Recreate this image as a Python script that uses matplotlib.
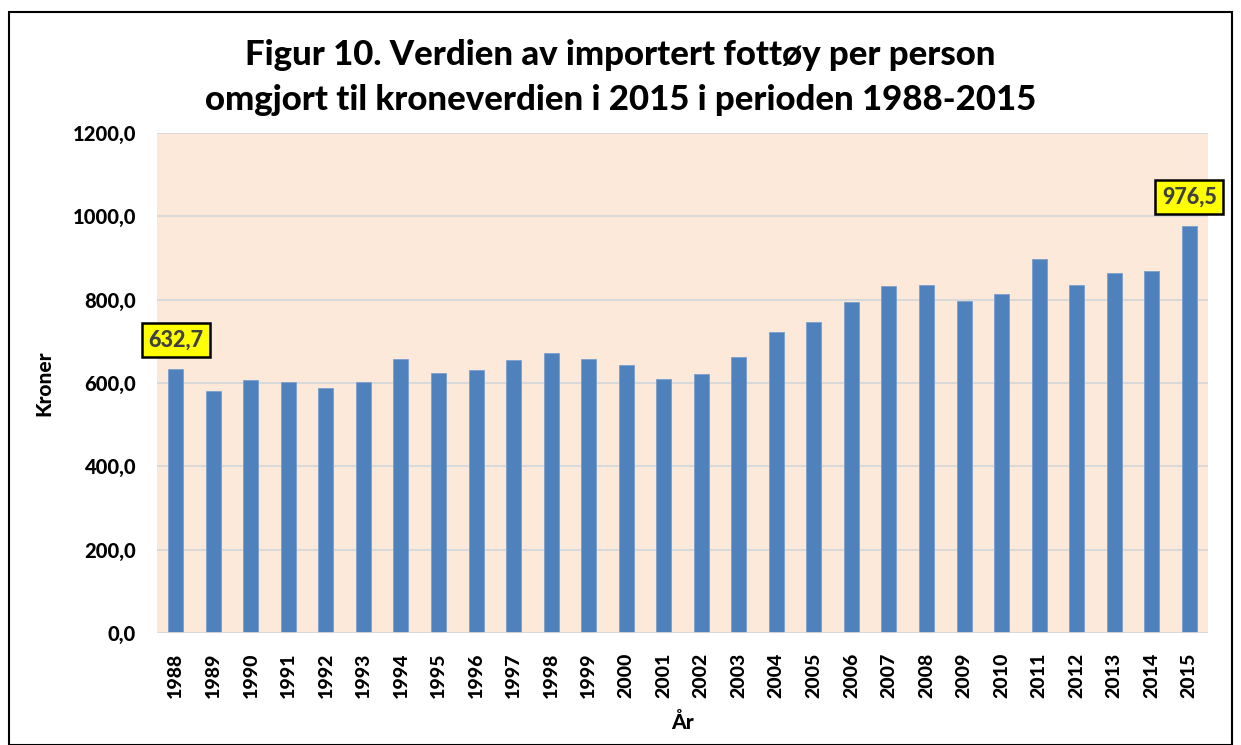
import matplotlib.pyplot as plt
from matplotlib.patches import Rectangle
from matplotlib.ticker import FuncFormatter

years = [str(y) for y in range(1988, 2016)]
kroner = [632.7, 580.8, 608.0, 602.4, 588.7, 601.5, 658.3, 624.7, 631.2, 655.9,
          672.0, 656.6, 644.0, 608.6, 620.6, 661.4, 721.4, 746.3, 793.4, 833.5,
          835.9, 797.5, 814.3, 898.3, 835.1, 864.7, 869.5, 976.5]

plt.rcParams['font.family'] = ['Lato', 'DejaVu Sans']

fig = plt.figure(figsize=(12.41, 7.45), dpi=100)
ax = fig.add_axes([157 / 1241, 1 - 633 / 745, 1051 / 1241, 500 / 745])

bar_colour = "#4f81bd"
x = range(len(years))
ax.bar(x, kroner, width=0.4, color=bar_colour, edgecolor="#7b9fd0", linewidth=0.6, zorder=3)

ax.set_facecolor("#fde9da")
ax.set_xlim(-0.5, len(years) - 0.5)
ax.set_ylim(0, 1200)
ax.set_yticks(range(0, 1201, 200))
ax.yaxis.set_major_formatter(FuncFormatter(lambda v, p: f"{v:.1f}".replace(".", ",")))
ax.grid(axis="y", color="#d9d9d9", linewidth=1.5, zorder=0)
ax.set_xticks(list(x))
ax.set_xticklabels(years, rotation=90, fontsize=14, fontweight="black")
for lbl in ax.get_yticklabels():
    lbl.set_fontsize(14.5)
    lbl.set_fontweight("black")
ax.tick_params(axis="x", length=0, pad=14)
ax.tick_params(axis="y", length=0, pad=15)
for s in ax.spines.values():
    s.set_visible(False)
ax.axhline(0, color="#d9d9d9", linewidth=2, zorder=4)

ax.set_xlabel("År", fontsize=15, fontweight="black", labelpad=10)
ax.set_ylabel("Kroner", fontsize=15, fontweight="black", labelpad=14)

fig.text(0.5, 1 - 55 / 745, "Figur 10. Verdien av importert fottøy per person",
         ha="center", va="center", fontsize=25, fontweight="black")
fig.text(0.5, 1 - 100 / 745, "omgjort til kroneverdien i 2015 i perioden 1988-2015",
         ha="center", va="center", fontsize=25, fontweight="black")

# labels on first and last bar
for i in (0, len(kroner) - 1):
    ax.annotate(f"{kroner[i]:.1f}".replace(".", ","), (i, kroner[i]),
                xytext=(0, 21), textcoords="offset points", ha="center", va="center",
                fontsize=15.5, fontweight="black", color="#404040", zorder=5,
                bbox=dict(boxstyle="square,pad=0.3", fc="#ffff00", ec="black", lw=1.8),
                annotation_clip=False)

fig.patches.append(Rectangle((9 / 1241, 0), 1223 / 1241, 1 - 12 / 745,
                             transform=fig.transFigure, fill=False, ec="black", lw=1.5))

fig.savefig("out.png", dpi=100)
